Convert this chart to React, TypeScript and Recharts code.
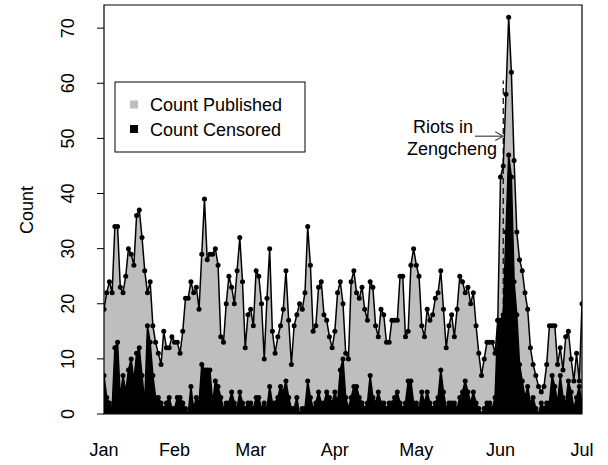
import React from 'react';
import { ComposedChart, Area, XAxis, YAxis, ReferenceLine, ReferenceArea } from 'recharts';

const FONT = '"Liberation Sans", Arial, Helvetica, sans-serif';

// day-of-year index (Jan 1 = 0) of the first daily observation
const firstDay = 5;

const published = [
  19, 22, 24, 22, 34, 34, 23, 22, 25, 30,
  29, 27, 36, 37, 32, 26, 22, 24, 16, 13,
  11, 9, 15, 12, 12, 14, 13, 13, 11, 15,
  21, 21, 24, 22, 23, 19, 29, 39, 28, 29,
  29, 30, 27, 14, 13, 20, 25, 23, 20, 26,
  32, 24, 12, 18, 19, 16, 26, 25, 20, 10,
  21, 30, 15, 11, 14, 16, 19, 26, 17, 9,
  16, 18, 20, 19, 22, 34, 27, 15, 16, 23,
  24, 18, 17, 14, 12, 15, 22, 24, 20, 11,
  10, 24, 26, 22, 21, 23, 19, 17, 24, 23,
  16, 14, 19, 18, 13, 13, 17, 17, 17, 25,
  25, 14, 15, 27, 30, 27, 25, 16, 14, 19,
  17, 18, 21, 22, 26, 19, 12, 16, 18, 14,
  19, 25, 24, 22, 23, 20, 22, 16, 11, 7,
  10, 13, 13, 13, 11, 17, 43, 45, 58, 72,
  62, 46, 33, 28, 26, 22, 19, 12, 9, 7,
  5, 4, 5, 9, 16, 16, 16, 9, 12, 8,
  14, 15, 10, 6, 11, 6, 20,
];

const censored = [
  7, 3, 2, 1, 12, 13, 3, 7, 4, 8,
  10, 6, 11, 12, 7, 2, 16, 13, 7, 3,
  3, 2, 1, 2, 3, 1, 1, 3, 3, 2,
  1, 0, 5, 1, 3, 2, 9, 8, 8, 8,
  2, 6, 5, 3, 1, 2, 2, 4, 2, 1,
  4, 2, 1, 2, 2, 1, 3, 3, 1, 2,
  1, 5, 2, 2, 3, 5, 4, 6, 3, 1,
  1, 3, 0, 1, 1, 6, 3, 1, 2, 4,
  2, 2, 4, 3, 2, 4, 2, 8, 10, 3,
  1, 3, 5, 5, 3, 2, 1, 2, 7, 3,
  2, 4, 2, 2, 1, 2, 2, 3, 4, 2,
  1, 2, 6, 6, 2, 2, 1, 4, 2, 4,
  2, 1, 2, 3, 8, 4, 1, 2, 2, 2,
  1, 3, 4, 6, 4, 2, 4, 2, 1, 0,
  1, 2, 2, 1, 3, 17, 17, 18, 33, 47,
  43, 24, 18, 9, 6, 3, 5, 2, 3, 1,
  0, 2, 1, 2, 2, 7, 5, 2, 7, 3,
  2, 6, 4, 1, 3, 5, 2,
];

const monthTickDays = [5, 31, 59, 90, 120, 151, 181];
const monthLabels = ['Jan', 'Feb', 'Mar', 'Apr', 'May', 'Jun', 'Jul'];
const countTicks = [0, 10, 20, 30, 40, 50, 60, 70];
const yMax = 74.2;
const lastDay = 181;

const eventDay = 152;
const eventLineTop = 60.5;
const arrowStartDay = 141.6;
const arrowY = 50.4;
const annotationLines = ['Riots in', 'Zengcheng'];

const seriesNames = ['Count Published', 'Count Censored'];
const seriesColors = ['#bebebe', '#000000'];
const yLabel = 'Count';

const data = published.map((p, i) => ({ day: firstDay + i, published: p, censored: censored[i] }));

const YTick = (props: any) => {
  const { y, payload } = props;
  const cx = 68;
  return (
    <text
      x={cx}
      y={y}
      transform={`rotate(-90, ${cx}, ${y})`}
      textAnchor="middle"
      dominantBaseline="central"
      fontSize={18}
      fontFamily={FONT}
      fill="#000"
    >
      {payload.value}
    </text>
  );
};

const XTick = (props: any) => {
  const { x, payload, index } = props;
  return (
    <text x={x} y={456} textAnchor="middle" fontSize={18} fontFamily={FONT} fill="#000">
      {monthLabels[index] ?? payload.value}
    </text>
  );
};

const ArrowShape = (props: any) => {
  const { x1, y1, x2, y2 } = props;
  if (x1 == null) return null;
  const head = 8;
  return (
    <g stroke="#444" strokeWidth={1.2} fill="none">
      <line x1={x1} y1={y1} x2={x2} y2={y2} />
      <line x1={x2} y1={y2} x2={x2 - head} y2={y2 - head * 0.55} />
      <line x1={x2} y1={y2} x2={x2 - head} y2={y2 + head * 0.55} />
    </g>
  );
};

export default function App() {
  return (
    <div style={{ position: 'absolute', left: 0, top: 0, width: 608, height: 465, background: '#fff' }}>
      <ComposedChart
        width={608}
        height={465}
        data={data}
        margin={{ top: 5, right: 26, bottom: 0, left: 0 }}
      >
        <XAxis
          dataKey="day"
          type="number"
          domain={[firstDay, lastDay]}
          ticks={monthTickDays}
          interval={0}
          allowDataOverflow
          axisLine={false}
          tickLine={false}
          height={51}
          tick={<XTick />}
        />
        <YAxis
          type="number"
          domain={[0, yMax]}
          ticks={countTicks}
          interval={0}
          allowDataOverflow
          width={104}
          axisLine={false}
          tickLine={{ stroke: '#000', strokeWidth: 1 }}
          tickSize={7}
          tick={<YTick />}
        />
        <Area
          type="linear"
          dataKey="published"
          stroke="#000"
          strokeWidth={1.5}
          fill={seriesColors[0]}
          fillOpacity={1}
          dot={{ r: 2.5, fill: '#000', stroke: 'none' }}
          activeDot={false}
          isAnimationActive={false}
        />
        <Area
          type="linear"
          dataKey="censored"
          stroke="#000"
          strokeWidth={1.5}
          fill={seriesColors[1]}
          fillOpacity={1}
          dot={{ r: 2.5, fill: '#000', stroke: 'none' }}
          activeDot={false}
          isAnimationActive={false}
        />
        <ReferenceLine
          segment={[{ x: eventDay, y: 0 }, { x: eventDay, y: eventLineTop }]}
          stroke="#000"
          strokeWidth={1.2}
          strokeDasharray="6 4"
          ifOverflow="visible"
        />
        <ReferenceLine
          segment={[{ x: arrowStartDay, y: arrowY }, { x: eventDay, y: arrowY }]}
          stroke="#444"
          ifOverflow="visible"
          shape={<ArrowShape />}
        />
        <ReferenceArea
          x1={firstDay}
          x2={lastDay}
          y1={0}
          y2={yMax}
          fill="none"
          fillOpacity={0}
          stroke="#000"
          strokeWidth={1.2}
          ifOverflow="visible"
        />
      </ComposedChart>
      <svg
        width={608}
        height={465}
        style={{ position: 'absolute', left: 0, top: 0, pointerEvents: 'none' }}
        fontFamily={FONT}
      >
        <text
          x={27}
          y={210}
          transform="rotate(-90, 27, 210)"
          textAnchor="middle"
          dominantBaseline="central"
          fontSize={18}
          fill="#000"
        >
          {yLabel}
        </text>
        <rect x={115} y={82} width={190} height={70} fill="#fff" stroke="#000" strokeWidth={1} />
        <rect x={130} y={100.5} width={8} height={8} fill={seriesColors[0]} />
        <text x={150} y={111} fontSize={18} fill="#000">{seriesNames[0]}</text>
        <rect x={130} y={125} width={8} height={8} fill={seriesColors[1]} />
        <text x={150} y={136} fontSize={18} fill="#000">{seriesNames[1]}</text>
        <text x={473} y={133} textAnchor="end" fontSize={18} fill="#000">{annotationLines[0]}</text>
        <text x={497} y={155} textAnchor="end" fontSize={18} fill="#000">{annotationLines[1]}</text>
      </svg>
    </div>
  );
}
